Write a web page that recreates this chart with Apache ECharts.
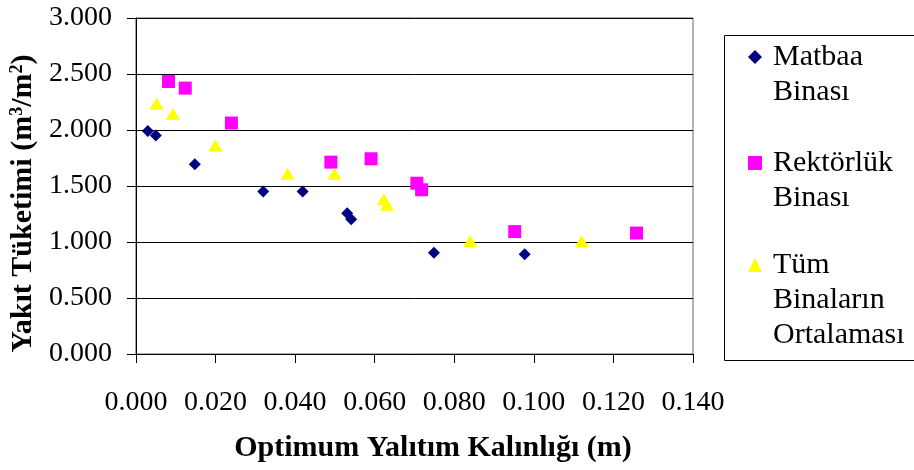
<!DOCTYPE html>
<html>
<head>
<meta charset="utf-8">
<script src="https://cdn.jsdelivr.net/npm/echarts@6/dist/echarts.min.js"></script>
<style>
  html, body { margin: 0; padding: 0; background: #fff; }
  #chart { width: 914px; height: 470px; }
</style>
</head>
<body>
<div id="chart"></div>
<script>
const FONT = 'Liberation Serif';

// [optimum insulation thickness (m), fuel consumption (m3/m2)]
const matbaa = [
  [0.003, 1.99], [0.005, 1.95], [0.0148, 1.695], [0.032, 1.45], [0.0419, 1.45],
  [0.0531, 1.257], [0.0541, 1.204], [0.0749, 0.905], [0.0977, 0.891]
];
const rektorluk = [
  [0.0082, 2.433], [0.0124, 2.374], [0.024, 2.062], [0.049, 1.713], [0.0591, 1.743],
  [0.0706, 1.525], [0.0718, 1.466], [0.0952, 1.093], [0.1258, 1.08]
];
const ortalama = [
  [0.0052, 2.234], [0.0093, 2.145], [0.02, 1.862], [0.0381, 1.609], [0.0499, 1.609],
  [0.0623, 1.382], [0.0631, 1.332], [0.084, 1.01], [0.112, 1.01]
];

const seriesNames = ['Matbaa Binası', 'Rektörlük Binası', 'Tüm Binaların Ortalaması'];
const legendLines = [['Matbaa', 'Binası'], ['Rektörlük', 'Binası'], ['Tüm', 'Binaların', 'Ortalaması']];

const myChart = echarts.init(document.getElementById('chart'));

// one legend per series so the icon sits on the first text line
const LH = 35;
const makeLegend = (idx, iconY, icon) => {
  const lines = legendLines[idx];
  const n = lines.length;
  const pad = new Array(n - 1).fill('').join('\n');
  return {
    data: [{ name: seriesNames[idx], icon: icon }],
    left: 748,
    top: iconY - (n - 1) * LH - LH / 2,
    padding: 0,
    itemWidth: 14,
    itemHeight: 14,
    selectedMode: false,
    formatter: () => (n > 1 ? pad + '\n' : '') + lines.join('\n'),
    textStyle: {
      fontFamily: FONT,
      fontSize: 30,
      color: '#000',
      lineHeight: LH,
      padding: [0, 0, 0, 6]
    }
  };
};

const option = {
  backgroundColor: '#fff',
  animation: false,
  textStyle: { fontFamily: FONT },
  grid: {
    left: 132,
    top: 18,
    right: 221,
    bottom: 116,
    show: true,
    borderColor: '#666',
    borderWidth: 1
  },
  xAxis: {
    type: 'value',
    min: 0,
    max: 0.14,
    interval: 0.02,
    name: 'Optimum Yalıtım Kalınlığı (m)',
    nameLocation: 'middle',
    nameGap: 79,
    nameTextStyle: {
      fontFamily: FONT,
      fontSize: 30,
      fontWeight: 'bold',
      color: '#000',
      padding: [0, 0, 0, 37]
    },
    axisLine: { show: true, lineStyle: { color: '#000' } },
    axisTick: { show: true, inside: false, length: 9, lineStyle: { color: '#000' } },
    axisLabel: {
      fontFamily: FONT,
      fontSize: 28,
      color: '#000',
      margin: 35,
      formatter: v => v.toFixed(3)
    },
    splitLine: { show: false }
  },
  yAxis: {
    type: 'value',
    min: 0,
    max: 3,
    interval: 0.5,
    name: 'Yakıt Tüketimi (m{sup|3}/m{sup|2})',
    nameLocation: 'middle',
    nameGap: 93,
    nameTextStyle: {
      fontFamily: FONT,
      fontSize: 30,
      fontWeight: 'bold',
      color: '#000',
      padding: [0, 35, 0, 0],
      rich: {
        sup: {
          fontFamily: FONT,
          fontSize: 18,
          fontWeight: 'bold',
          color: '#000',
          verticalAlign: 'top'
        }
      }
    },
    axisLine: { show: true, lineStyle: { color: '#000' } },
    axisTick: { show: true, inside: false, length: 9, lineStyle: { color: '#000' } },
    axisLabel: {
      fontFamily: FONT,
      fontSize: 28,
      color: '#000',
      margin: 24,
      formatter: v => v.toFixed(3)
    },
    splitLine: { show: true, lineStyle: { color: '#000', width: 1 } }
  },
  legend: [
    makeLegend(0, 57, 'diamond'),
    makeLegend(1, 163, 'rect'),
    makeLegend(2, 265, 'triangle')
  ],
  graphic: [
    {
      type: 'rect',
      left: 722,
      top: 33,
      shape: { width: 191, height: 325 },
      style: { fill: 'none', stroke: '#000', lineWidth: 1 },
      z: -1
    }
  ],
  series: [
    {
      name: seriesNames[0],
      type: 'scatter',
      symbol: 'diamond',
      symbolSize: 12,
      itemStyle: { color: '#000080', opacity: 1 },
      data: matbaa
    },
    {
      name: seriesNames[1],
      type: 'scatter',
      symbol: 'rect',
      symbolSize: 13,
      itemStyle: { color: '#ff00ff', opacity: 1 },
      data: rektorluk
    },
    {
      name: seriesNames[2],
      type: 'scatter',
      symbol: 'triangle',
      symbolSize: [14, 12],
      itemStyle: { color: '#ffff00', opacity: 1 },
      data: ortalama
    }
  ]
};

myChart.setOption(option);
</script>
</body>
</html>
